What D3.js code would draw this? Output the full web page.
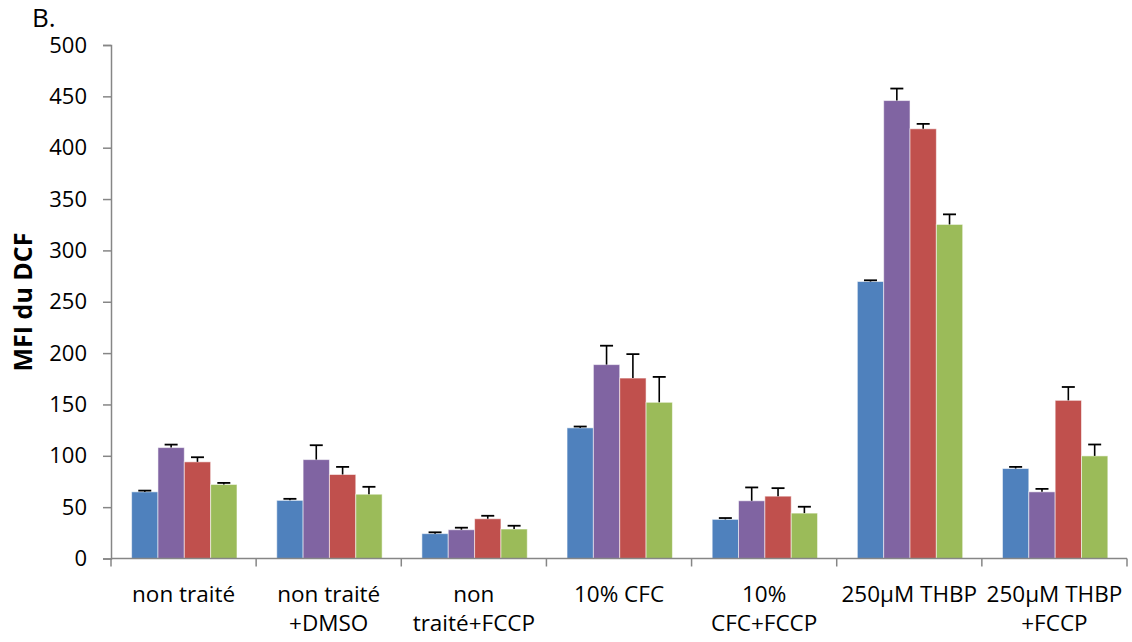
<!DOCTYPE html>
<html>
<head>
<meta charset="utf-8">
<script src="https://cdn.jsdelivr.net/npm/d3@7"></script>
<style>
  html, body { margin: 0; padding: 0; background: #fff; }
  text { font-family: "Open Sans", "DejaVu Sans", sans-serif; fill: #000; }
</style>
</head>
<body>
<svg id="chart" width="1132" height="642"></svg>
<script>
// ---- data ----
const categories = [
  ["non traité"],
  ["non traité", "+DMSO"],
  ["non", "traité+FCCP"],
  ["10% CFC"],
  ["10%", "CFC+FCCP"],
  ["250µM THBP"],
  ["250µM THBP", "+FCCP"]
];
const seriesNames = ["s1", "s2", "s3", "s4"];
const seriesColors = ["#4F81BD", "#8064A2", "#C0504D", "#9BBB59"];
const values1 = [64.9, 56.6, 24.2, 127.2, 38.1, 269.7, 87.6];
const values2 = [108.0, 96.3, 28.0, 188.8, 56.2, 445.9, 64.9];
const values3 = [94.1, 81.8, 38.7, 175.7, 60.7, 418.4, 154.0];
const values4 = [72.1, 62.6, 28.7, 152.1, 44.2, 325.3, 99.9];
const errors1 = [1.2, 1.5, 1.3, 1.3, 1.3, 1.2, 1.6];
const errors2 = [2.9, 14.0, 2.0, 18.4, 13.0, 11.7, 2.9];
const errors3 = [4.5, 7.4, 2.9, 23.3, 7.8, 4.8, 13.0];
const errors4 = [1.5, 7.2, 3.2, 24.7, 6.2, 9.8, 11.1];
const yTicks = [0, 50, 100, 150, 200, 250, 300, 350, 400, 450, 500];
const yTitle = "MFI du DCF";
const panelLabel = "B.";

const allValues = [values1, values2, values3, values4];
const allErrors = [errors1, errors2, errors3, errors4];

// ---- layout ----
const svg = d3.select("#chart");
const mLeft = 111, mRight = 1127, mTop = 45, mBottom = 558.5;
const axisColor = "#868686";

const x0 = d3.scaleBand().domain(d3.range(categories.length)).range([mLeft, mRight]).paddingInner(0).paddingOuter(0);
const bw = x0.bandwidth();
const x1 = d3.scaleBand().domain(seriesNames).range([bw * 0.142, bw * 0.868]).padding(0);
const y = d3.scaleLinear().domain([0, 500]).range([mBottom, mTop]);

// bars
const rows = [];
categories.forEach((c, i) => {
  seriesNames.forEach((s, j) => {
    rows.push({ cat: i, s, j, v: allValues[j][i], e: allErrors[j][i] });
  });
});

const g = svg.append("g");
g.selectAll("rect.bar").data(rows).enter().append("rect")
  .attr("class", "bar")
  .attr("x", d => x0(d.cat) + x1(d.s))
  .attr("y", d => y(d.v))
  .attr("width", x1.bandwidth())
  .attr("height", d => y(0) - y(d.v))
  .attr("fill", d => seriesColors[d.j])
  .attr("stroke", "rgba(255,255,255,0.55)")
  .attr("stroke-width", 1);

// error bars (upper only)
const capW = 13;
const eb = g.selectAll("g.err").data(rows).enter().append("g").attr("class", "err");
eb.append("line")
  .attr("x1", d => x0(d.cat) + x1(d.s) + x1.bandwidth() / 2)
  .attr("x2", d => x0(d.cat) + x1(d.s) + x1.bandwidth() / 2)
  .attr("y1", d => y(d.v))
  .attr("y2", d => y(d.v + d.e))
  .attr("stroke", "#000").attr("stroke-width", 1.6);
eb.append("line")
  .attr("x1", d => x0(d.cat) + x1(d.s) + x1.bandwidth() / 2 - capW / 2)
  .attr("x2", d => x0(d.cat) + x1(d.s) + x1.bandwidth() / 2 + capW / 2)
  .attr("y1", d => y(d.v + d.e))
  .attr("y2", d => y(d.v + d.e))
  .attr("stroke", "#000").attr("stroke-width", 1.8);

// y axis
const yAxis = d3.axisLeft(y).tickValues(yTicks).tickSize(8).tickPadding(16).tickFormat(d3.format("d"));
const ya = svg.append("g").attr("transform", `translate(${mLeft},0)`).call(yAxis);
ya.select(".domain").attr("stroke", axisColor).attr("stroke-width", 1.5);
ya.selectAll(".tick line").attr("stroke", axisColor).attr("stroke-width", 1.5);
ya.selectAll(".tick text").style("font-size", "22px").attr("fill", "#000")
  .style("font-family", '"Open Sans", sans-serif');

// x axis with boundary ticks
const xa = svg.append("g");
xa.append("line").attr("x1", mLeft).attr("x2", mRight).attr("y1", mBottom).attr("y2", mBottom)
  .attr("stroke", axisColor).attr("stroke-width", 1.5);
const bounds = d3.range(categories.length + 1).map(i => i < categories.length ? x0(i) : x0(i - 1) + bw);
xa.selectAll("line.bt").data(bounds).enter().append("line").attr("class", "bt")
  .attr("x1", d => d).attr("x2", d => d).attr("y1", mBottom).attr("y2", mBottom + 8)
  .attr("stroke", axisColor).attr("stroke-width", 1.5);

// category labels
const lbl = xa.selectAll("text.cat").data(categories).enter().append("text").attr("class", "cat")
  .attr("text-anchor", "middle")
  .style("font-size", "22.5px");
lbl.each(function(d, i) {
  const t = d3.select(this);
  d.forEach((line, k) => {
    t.append("tspan").attr("x", x0(i) + bw / 2).attr("y", 602 + k * 29).text(line);
  });
});

// y title
svg.append("text")
  .attr("transform", `translate(32,302) rotate(-90)`)
  .attr("text-anchor", "middle")
  .style("font-size", "25px").style("font-weight", "bold")
  .text(yTitle);

// panel label
svg.append("text").attr("x", 32).attr("y", 27).style("font-size", "26px").text(panelLabel);
</script>
</body>
</html>
